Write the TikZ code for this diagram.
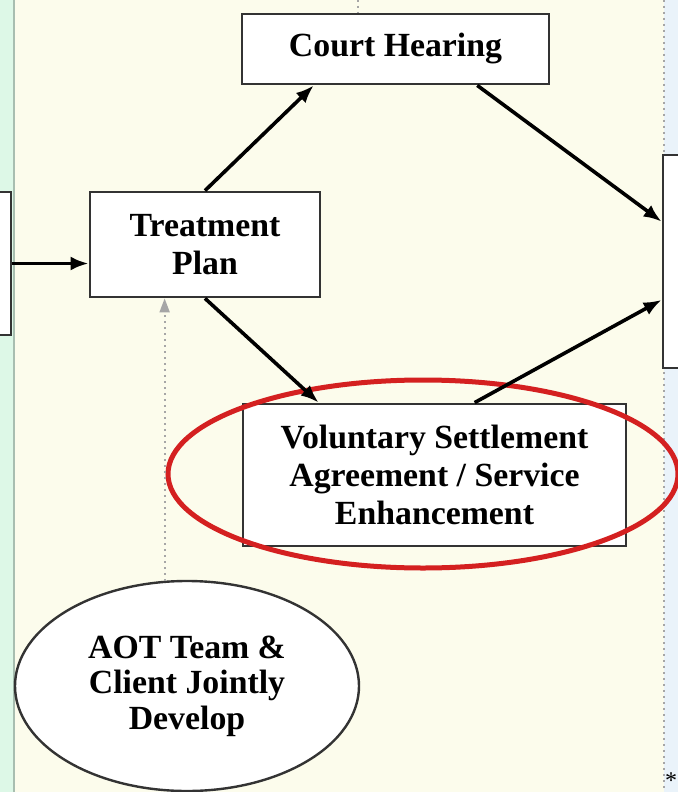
\documentclass[tikz,border=0pt]{standalone}
\usepackage{fontspec}
\setmainfont{Liberation Serif}
\usetikzlibrary{shapes.geometric,arrows.meta}
\definecolor{fondo}{HTML}{FCFCEC}
\definecolor{verde}{HTML}{DDF8E7}
\definecolor{azul}{HTML}{EAF3FA}
\definecolor{rojo}{HTML}{D42020}
\definecolor{borde}{HTML}{333333}
\tikzset{
  caja/.style={draw=borde, line width=1.4pt, fill=white, align=center, inner sep=0pt,
    font=\fontsize{16.9}{18.6}\selectfont\bfseries},
  globo/.style={caja, ellipse, line width=1.2pt},
  flecha/.style={line width=1.8pt, -{Latex[length=9pt,width=7pt]}},
  punteado/.style={gray!70, line width=1pt, dotted},
}
\begin{document}
\begin{tikzpicture}[x=0.5pt,y=-0.5pt]
                \useasboundingbox (0,0) rectangle (678,792);
                \clip (0,0) rectangle (678,792);
                \fill[fondo] (0,0) rectangle (678,792); % fondo
                \fill[verde] (0,0) rectangle (14,792); % franja izquierda
                \fill[azul] (664,0) rectangle (678,792); % franja derecha
                \draw[color={rgb,255:red,168;green,190;blue,176}, line width=1pt] (14,0) -- (14,792);
                \draw[punteado] (664,0) -- (664,792);
                \node[caja, minimum width=60pt, minimum height=71.5pt] (izq) at (-49,263.5) {};
                \node[caja, minimum width=60pt, minimum height=106.5pt] (der) at (723,261.5) {};
                \node[caja, minimum width=153.5pt, minimum height=35pt] (ch) at (395.5,49) {Court Hearing};
                \node[caja, minimum width=115pt, minimum height=52.5pt] (tp) at (205,244.5) {Treatment\\Plan};
                \node[caja, minimum width=191.5pt, minimum height=71pt, font=\fontsize{16.9}{18.8}\selectfont\bfseries] (vsa) at (434.5,475) {Voluntary Settlement\\Agreement / Service\\Enhancement};
                \node[globo, minimum width=172pt, minimum height=105pt, font=\fontsize{16.9}{17.8}\selectfont\bfseries] (aot) at (187,686) {AOT Team \&\\Client Jointly\\Develop};
                \draw[rojo, line width=2.5pt] (423,474) ellipse [x radius=255, y radius=94]; % marca
                \draw[flecha] (izq.east) -- (izq.east -| tp.west);
                \draw[flecha] (tp.north) -- (ch.204);
                \draw[flecha] (ch.336) -- (der.147);
                \draw[flecha] (tp.south) -- (vsa.148.5);
                \draw[flecha] (vsa.61) -- (der.212);
                \draw[punteado, -{Triangle[length=7pt,width=5pt,fill=gray!70]}] (aot.102) -- (aot.102 |- tp.south);
                \coordinate (arriba) at (358,0);
                \draw[punteado] (arriba) -- (arriba |- ch.north);
                \node[font=\fontsize{12}{12}\selectfont, inner sep=1pt] (nota) at (671,781) {*};
\end{tikzpicture}
\end{document}
